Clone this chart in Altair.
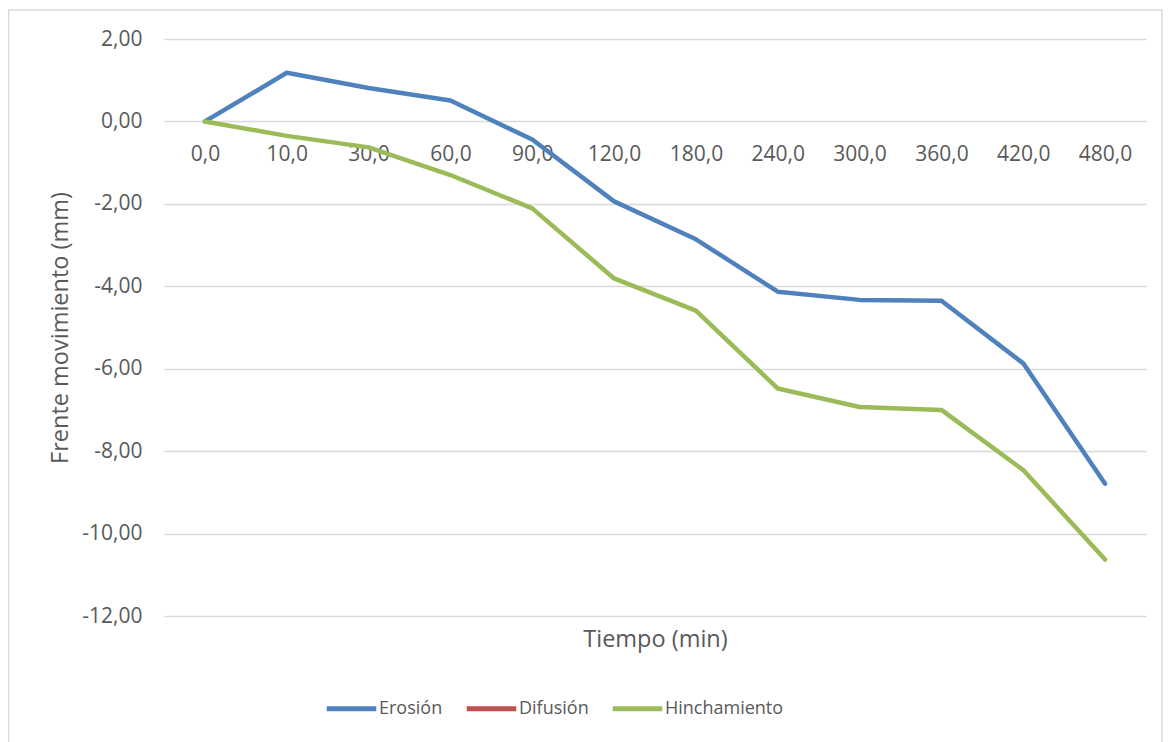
import altair as alt
import pandas as pd

# ---- data ----
tiempo = ["0,0", "10,0", "30,0", "60,0", "90,0", "120,0", "180,0",
          "240,0", "300,0", "360,0", "420,0", "480,0"]
erosion = [0.0, 1.18, 0.81, 0.51, -0.44, -1.94, -2.86, -4.13, -4.33, -4.35, -5.87, -8.79]
difusion = [None] * 12  # series present in legend only (no visible line)
hinchamiento = [0.0, -0.35, -0.63, -1.30, -2.11, -3.81, -4.59, -6.48, -6.93, -7.00, -8.46, -10.63]

series = ["Erosión", "Difusión", "Hinchamiento"]
colors = ["#4F81BD", "#C0504D", "#9BBB59"]
y_ticks = [2, 0, -2, -4, -6, -8, -10, -12]

rows = []
for name, vals in zip(series, [erosion, difusion, hinchamiento]):
    for t, v in zip(tiempo, vals):
        rows.append({"Tiempo": t, "Valor": v, "Serie": name})
df = pd.DataFrame(rows)

FONT = "Open Sans"
TXT = "#595959"
GRID = "#D9D9D9"

W, H = 982, 577

lines = alt.Chart(df).mark_line(
    strokeWidth=4.5, strokeCap="round", strokeJoin="round"
).encode(
    x=alt.X("Tiempo:N", sort=tiempo,
            scale=alt.Scale(type="point", padding=0.5),
            axis=alt.Axis(
                title="Tiempo (min)", orient="bottom", offset=-494.6,
                domain=False, ticks=False, grid=False,
                labelAngle=0, labelFont=FONT, labelFontSize=21,
                labelColor=TXT, labelPadding=22.5, labelBaseline="top",
                titleFont=FONT, titleFontSize=23.5, titleFontWeight="normal",
                titleColor=TXT, titleBaseline="alphabetic", titleY=525,
            )),
    y=alt.Y("Valor:Q",
            scale=alt.Scale(domain=[-12, 2], nice=False, zero=False),
            axis=alt.Axis(
                title="Frente movimiento (mm)", values=y_ticks,
                labelExpr="(datum.value < 0 ? '-' : '') + replace(format(abs(datum.value), '.2f'), '.', ',')",
                domain=False, ticks=False, grid=True,
                gridColor=GRID, gridWidth=1.3,
                labelFont=FONT, labelFontSize=21, labelColor=TXT,
                labelPadding=22, labelBaseline="middle",
                titleFont=FONT, titleFontSize=23.5, titleFontWeight="normal",
                titleColor=TXT, titleX=-104, titleBaseline="middle",
            )),
    color=alt.Color("Serie:N",
                    scale=alt.Scale(domain=series, range=colors),
                    sort=series,
                    legend=alt.Legend(
                        title=None, orient="none", direction="horizontal",
                        legendX=160, legendY=642,
                        symbolType="stroke", symbolSize=2450,
                        symbolStrokeWidth=5, labelOffset=0,
                        columnPadding=13, padding=0,
                        labelFont=FONT, labelFontSize=18, labelColor=TXT,
                    )),
    detail="Serie:N",
)

border = alt.Chart(pd.DataFrame({"a": [0]})).mark_rect(
    filled=False, stroke=GRID, strokeWidth=1.5
).encode(
    x=alt.value(-155.5), x2=alt.value(W + 16),
    y=alt.value(-29), y2=alt.value(H + 160),
)

chart = alt.layer(border, lines).properties(
    width=W, height=H,
    padding={"left": 156, "top": 31, "right": 17, "bottom": 126},
    autosize=alt.AutoSizeParams(type="none"),
    background="white",
).configure_view(stroke=None)

chart.save("out.html", embed_options={"renderer": "svg", "actions": False})
